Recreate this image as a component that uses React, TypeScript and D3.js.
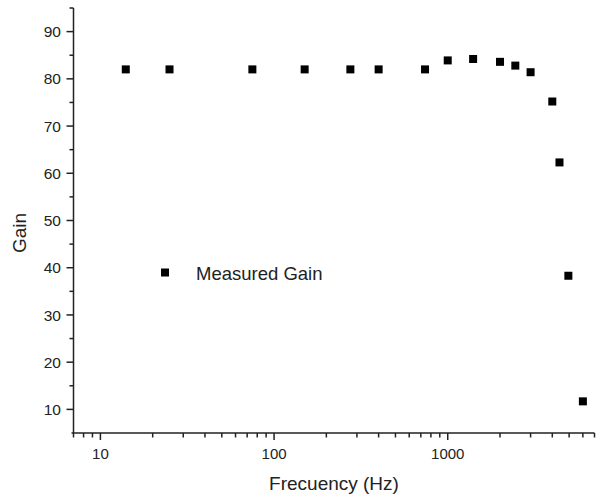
import React from "react";
import * as d3 from "d3";

const freqs = [14, 25, 75, 150, 275, 400, 740, 1000, 1400, 2000, 2450, 3000, 4000, 4400, 4950, 6000];
const gains = [82, 82, 82, 82, 82, 82, 82, 83.9, 84.2, 83.6, 82.8, 81.4, 75.2, 62.3, 38.3, 11.7];
const xMajor = [10, 100, 1000];
const yMajor = [10, 20, 30, 40, 50, 60, 70, 80, 90];
const seriesName = "Measured Gain";

const W = 597, H = 497;
const font = "'Liberation Sans', Arial, sans-serif";
const ink = "#222";

const App = () => {
  const x = d3.scaleLog().domain([7, 7000]).range([73.5, 594.5]);
  const y = d3.scaleLinear().domain([5, 95]).range([433, 8]);

  // minor ticks: 2..9 per decade on x, every 5 on y
  const xMinor: number[] = [];
  [1, 10, 100, 1000].forEach(dec => {
    for (let k = 2; k <= 9; k++) {
      const v = k * dec;
      if (v >= 7 && v <= 7000) xMinor.push(v);
    }
  });
  const yMinor = d3.range(15, 100, 10);

  const x0 = x.range()[0], x1 = x.range()[1];
  const yb = y.range()[0], yt = y.range()[1];
  const m = 8;

  return (
    <svg width={W} height={H} style={{ position: "absolute", left: 0, top: 0, background: "#fff" }}>
      {/* axes */}
      <line x1={x0 - 2} x2={x1} y1={yb} y2={yb} stroke={ink} strokeWidth={1.5} />
      <line x1={x0} x2={x0} y1={yt} y2={yb} stroke={ink} strokeWidth={1.5} />

      {xMinor.map(v => (
        <line key={"xm" + v} x1={x(v)} x2={x(v)} y1={yb} y2={yb + 4.5} stroke={ink} strokeWidth={1.5} />
      ))}
      {xMajor.map(v => (
        <g key={"xM" + v}>
          <line x1={x(v)} x2={x(v)} y1={yb} y2={yb + 7} stroke={ink} strokeWidth={1.5} />
          <text x={x(v)} y={459} textAnchor="middle" fontFamily={font} fontSize={15} fill={ink}>{v}</text>
        </g>
      ))}

      {yMinor.map(v => (
        <line key={"ym" + v} x1={x0 - 4} x2={x0} y1={y(v)} y2={y(v)} stroke={ink} strokeWidth={1.5} />
      ))}
      {yMajor.map(v => (
        <g key={"yM" + v}>
          <line x1={x0 - 7} x2={x0} y1={y(v)} y2={y(v)} stroke={ink} strokeWidth={1.5} />
          <text x={61} y={y(v)} dy="0.36em" textAnchor="end" fontFamily={font} fontSize={15.5} fill={ink}>{v}</text>
        </g>
      ))}

      <text x={334} y={490} textAnchor="middle" fontFamily={font} fontSize={19} fill={ink}>Frecuency (Hz)</text>
      <text transform="translate(26,233) rotate(-90)" textAnchor="middle" fontFamily={font} fontSize={19} fill={ink}>Gain</text>

      {freqs.map((f, i) => (
        <rect key={i} x={x(f) - m / 2} y={y(gains[i]) - m / 2} width={m} height={m} fill="#000" />
      ))}

      {/* legend */}
      <rect x={165 - m / 2} y={272.5 - m / 2} width={m} height={m} fill="#000" />
      <text x={196} y={280} fontFamily={font} fontSize={18.5} fill={ink}>{seriesName}</text>
    </svg>
  );
};

export default App;
